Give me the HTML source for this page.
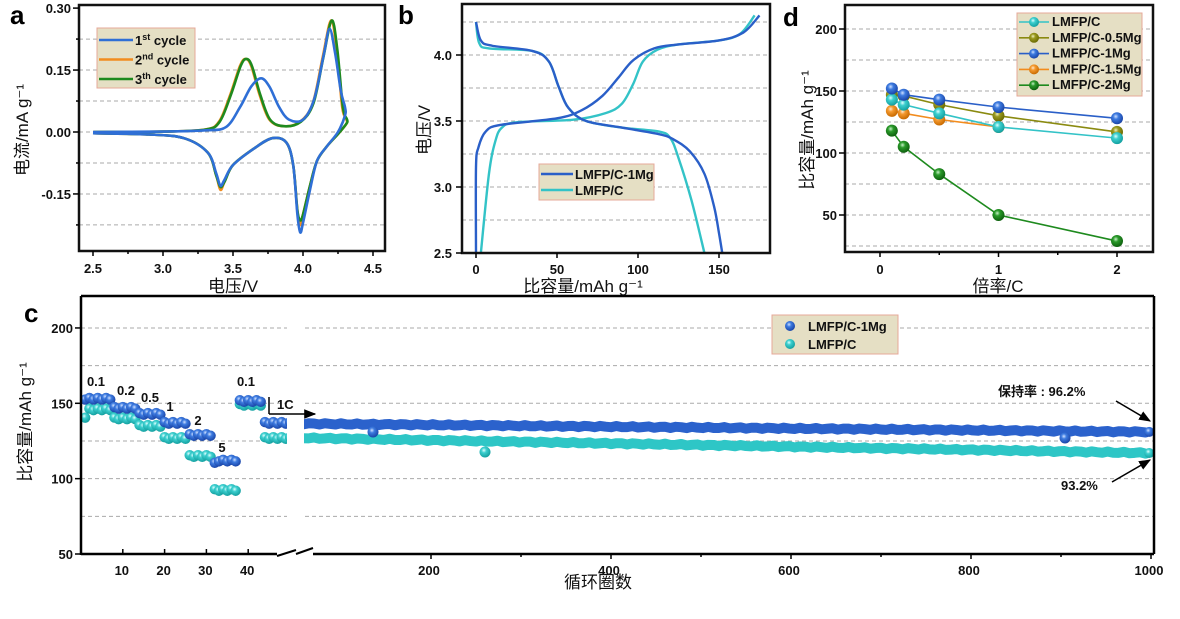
<!DOCTYPE html>
<html><head><meta charset="utf-8"><style>
body{margin:0;background:#fff;width:1180px;height:614px;overflow:hidden}
svg{font-family:"Liberation Sans","Noto Sans CJK SC",sans-serif}
.t{font-size:13px;font-weight:bold;fill:#111}
.ti{font-size:17px;fill:#111}
.L{font-size:26px;font-weight:bold;fill:#000}
.g{stroke:#aaa;stroke-dasharray:4 3;stroke-width:1}
</style></head><body>
<svg id="s" width="1180" height="614" xmlns="http://www.w3.org/2000/svg">
<defs>
<radialGradient id="gb" cx="0.4" cy="0.35" r="0.65"><stop offset="0" stop-color="#cfe0ff"/><stop offset="0.35" stop-color="#3d7be0"/><stop offset="1" stop-color="#1a45a8"/></radialGradient>
<radialGradient id="gc" cx="0.4" cy="0.35" r="0.65"><stop offset="0" stop-color="#e0ffff"/><stop offset="0.35" stop-color="#3ccfcf"/><stop offset="1" stop-color="#14a0a0"/></radialGradient>
<radialGradient id="go" cx="0.4" cy="0.35" r="0.65"><stop offset="0" stop-color="#ffe8cc"/><stop offset="0.35" stop-color="#f59a30"/><stop offset="1" stop-color="#c86a00"/></radialGradient>
<radialGradient id="gl" cx="0.4" cy="0.35" r="0.65"><stop offset="0" stop-color="#f0f0c0"/><stop offset="0.35" stop-color="#9a9a20"/><stop offset="1" stop-color="#6a6a00"/></radialGradient>
<radialGradient id="gg" cx="0.4" cy="0.35" r="0.65"><stop offset="0" stop-color="#c8f0c8"/><stop offset="0.35" stop-color="#2a9a2a"/><stop offset="1" stop-color="#0e600e"/></radialGradient>
<marker id="ar" viewBox="0 0 10 10" refX="9" refY="5" markerWidth="8" markerHeight="8" orient="auto"><path d="M0,1 L10,5 L0,9 z" fill="#000"/></marker>
</defs>
<g id="root"></g>
<text class="L" x="10" y="24">a</text>
<text class="L" x="398" y="24">b</text>
<text class="L" x="783" y="26">d</text>
<text class="L" x="24" y="322">c</text>
</svg>
<script>
const NS="http://www.w3.org/2000/svg",root=document.getElementById('root');
function el(t,a,txt){const e=document.createElementNS(NS,t);for(const k in a)e.setAttribute(k,a[k]);if(txt!==undefined)e.textContent=txt;root.appendChild(e);return e;}
function line(x1,y1,x2,y2,a){return el('line',Object.assign({x1,y1,x2,y2,stroke:'#000','stroke-width':1.5},a||{}));}
function txt(x,y,s,cls,extra){return el('text',Object.assign({x,y,class:cls||'t'},extra||{}),s);}
function smooth(pts){let d='M'+pts[0][0]+','+pts[0][1];for(let i=0;i<pts.length-1;i++){const p0=pts[i-1]||pts[i],p1=pts[i],p2=pts[i+1],p3=pts[i+2]||p2;const c1=[p1[0]+(p2[0]-p0[0])/6,p1[1]+(p2[1]-p0[1])/6],c2=[p2[0]-(p3[0]-p1[0])/6,p2[1]-(p3[1]-p1[1])/6];d+=` C${c1[0]},${c1[1]} ${c2[0]},${c2[1]} ${p2[0]},${p2[1]}`;}return d;}
function frame(x0,y0,x1,y1){el('rect',{x:x0,y:y0,width:x1-x0,height:y1-y0,fill:'none',stroke:'#111','stroke-width':2.5});}

/* ---------- Panel a ---------- */
{const X=v=>93+(v-2.5)*140,Y=i=>132-i*413;
[0.225,0.15,0.075,0,-0.075,-0.15,-0.225].forEach(v=>line(79,Y(v),385,Y(v),{class:'g'}));
const up1=[[2.5,0],[3.0,0.001],[3.3,0.004],[3.45,0.012],[3.55,0.06],[3.63,0.11],[3.7,0.13],[3.76,0.11],[3.83,0.06],[3.9,0.03],[4.0,0.03],[4.08,0.08],[4.15,0.19],[4.19,0.25],[4.23,0.19],[4.27,0.1],[4.3,0.06]];
const dn1=[[4.3,0.04],[4.25,0.0],[4.17,-0.035],[4.1,-0.07],[4.05,-0.14],[4.0,-0.22],[3.98,-0.243],[3.96,-0.2],[3.93,-0.08],[3.88,-0.025],[3.78,-0.015],[3.65,-0.04],[3.5,-0.08],[3.44,-0.115],[3.41,-0.13],[3.38,-0.1],[3.32,-0.05],[3.15,-0.015],[2.9,-0.006],[2.5,-0.003]];
const up2=[[2.5,0],[3.0,0.001],[3.3,0.006],[3.4,0.025],[3.48,0.09],[3.55,0.16],[3.59,0.177],[3.63,0.16],[3.69,0.09],[3.76,0.03],[3.86,0.014],[3.98,0.025],[4.07,0.07],[4.14,0.18],[4.2,0.27],[4.24,0.2],[4.28,0.06],[4.31,0.03]];
const dn2=k=>[[4.31,0.02],[4.25,-0.005],[4.17,-0.035],[4.1,-0.07],[4.05,-0.13],[4.0,-0.2],[3.98,-0.225*k],[3.96,-0.19],[3.93,-0.08],[3.88,-0.025],[3.78,-0.015],[3.65,-0.04],[3.5,-0.08],[3.44,-0.12],[3.41,-0.14*k],[3.38,-0.105],[3.32,-0.05],[3.15,-0.015],[2.9,-0.006],[2.5,-0.003]];
const m=a=>a.map(p=>[X(p[0]),Y(p[1])]);
el('path',{d:smooth(m(up2.concat(dn2(1)))),fill:'none',stroke:'#f28c1e','stroke-width':2.6});
el('path',{d:smooth(m(up2.map(p=>[p[0]+0.005,p[1]]).concat(dn2(0.95)))),fill:'none',stroke:'#1e8a1e','stroke-width':2.6});
el('path',{d:smooth(m(up1.concat(dn1))),fill:'none',stroke:'#2f6fd6','stroke-width':2.6});
frame(79,5,385,251);
[[0.3,'0.30'],[0.15,'0.15'],[0,'0.00'],[-0.15,'-0.15']].forEach(a=>{const v=a[0];line(73,Y(v),79,Y(v));txt(71,Y(v)+5,a[1],'t',{'text-anchor':'end'});});
[0.225,0.075,-0.075,-0.225].forEach(v=>line(76,Y(v),79,Y(v)));
[2.5,3,3.5,4,4.5].forEach(v=>{line(X(v),251,X(v),256);txt(X(v),273,v.toFixed(1),'t',{'text-anchor':'middle'});});
[2.75,3.25,3.75,4.25].forEach(v=>line(X(v),251,X(v),254));
el('text',{x:233,y:292,class:'ti','text-anchor':'middle'},'电压/V');
el('text',{x:0,y:0,class:'ti','text-anchor':'middle',transform:'translate(28,130) rotate(-90)'},'电流/mA g⁻¹');
el('rect',{x:97,y:28,width:98,height:60,fill:'#e5dfc4',stroke:'#e6a898','stroke-width':1});
[['#2f6fd6','1','st'],['#f28c1e','2','nd'],['#1e8a1e','3','th']].forEach((c,i)=>{const y=40+i*19.5;line(99,y,133,y,{stroke:c[0],'stroke-width':2.6});const t=el('text',{x:135,y:y+5,class:'t'});t.innerHTML=c[1]+'<tspan dy="-5" font-size="9">'+c[2]+'</tspan><tspan dy="5"> cycle</tspan>';});
}

/* ---------- Panel b ---------- */
{const X=c=>476+c*1.62,Y=v=>253-(v-2.5)*132;
[4.25,4.0,3.75,3.5,3.25,3.0,2.75].forEach(v=>line(462,Y(v),770,Y(v),{class:'g'}));
const m=a=>a.map(p=>[X(p[0]),Y(p[1])]);
const chC=[[3,2.5],[8,3.1],[12,3.35],[16,3.45],[25,3.49],[60,3.51],[80,3.56],[90,3.63],[97,3.78],[103,3.95],[112,4.04],[125,4.08],[150,4.11],[163,4.16],[172,4.3]];
const dcC=[[0,4.25],[2,4.09],[8,4.05],[35,4.03],[45,3.95],[51,3.76],[57,3.6],[68,3.5],[90,3.45],[113,3.42],[120,3.37],[125,3.22],[133,2.9],[141,2.5]];
const ch1=[[0,2.5],[0,3.15],[1.5,3.3],[6,3.42],[15,3.47],[50,3.52],[65,3.58],[78,3.69],[88,3.83],[97,3.96],[110,4.05],[125,4.08],[150,4.11],[165,4.17],[175,4.3]];
const dc1=[[0,4.25],[3,4.11],[10,4.07],[35,4.03],[45,3.95],[51,3.76],[57,3.6],[68,3.5],[90,3.45],[113,3.4],[122,3.36],[132,3.27],[141,3.1],[147,2.85],[150,2.65],[152,2.5]];
[[chC,'#33c3c7'],[dcC,'#33c3c7'],[ch1,'#2a5fc8'],[dc1,'#2a5fc8']].forEach(a=>el('path',{d:smooth(m(a[0])),fill:'none',stroke:a[1],'stroke-width':2.4}));
frame(462,4,770,253);
[2.5,3,3.5,4].forEach(v=>{line(456,Y(v),462,Y(v));txt(452,Y(v)+5,v.toFixed(1),'t',{'text-anchor':'end'});});
[0,50,100,150].forEach(v=>{line(X(v),253,X(v),258);txt(X(v),274,v,'t',{'text-anchor':'middle'});});
el('text',{x:583,y:292,class:'ti','text-anchor':'middle'},'比容量/mAh g⁻¹');
el('text',{x:0,y:0,class:'ti','text-anchor':'middle',transform:'translate(430,130) rotate(-90)'},'电压/V');
el('rect',{x:539,y:164,width:115,height:36,fill:'#e5dfc4',stroke:'#e6a898'});
line(541,174,573,174,{stroke:'#2a5fc8','stroke-width':2.4});txt(575,179,'LMFP/C-1Mg');
line(541,190,573,190,{stroke:'#33c3c7','stroke-width':2.4});txt(575,195,'LMFP/C');
}

/* ---------- Panel d ---------- */
{const X=r=>880+r*118.5,Y=v=>29+(200-v)*1.24;
[200,175,150,125,100,75,50,25].forEach(v=>line(845,Y(v),1153,Y(v),{class:'g'}));
const r=[0.1,0.2,0.5,1,2];
const S=[['#1e8a1e','gg',[118,105,83,50,29]],['#f28c1e','go',[134,132,127,121,null]],['#8a8a10','gl',[147,146,139,130,117]],['#33c3c7','gc',[143,139,132,121,112]],['#2a5fc8','gb',[152,147,143,137,128]]];
S.forEach(s=>{const p=[];s[2].forEach((v,i)=>{if(v!=null)p.push(X(r[i])+','+Y(v));});el('polyline',{points:p.join(' '),fill:'none',stroke:s[0],'stroke-width':1.6});});
S.forEach(s=>s[2].forEach((v,i)=>{if(v!=null)el('circle',{cx:X(r[i]),cy:Y(v),r:6,fill:`url(#${s[1]})`});}));
frame(845,5,1153,252);
[200,150,100,50].forEach(v=>{line(839,Y(v),845,Y(v));txt(837,Y(v)+5,v,'t',{'text-anchor':'end'});});
[0,1,2].forEach(v=>{line(X(v),252,X(v),257);txt(X(v),274,v,'t',{'text-anchor':'middle'});});
[0.5,1.5].forEach(v=>line(X(v),252,X(v),255));
el('text',{x:998,y:292,class:'ti','text-anchor':'middle'},'倍率/C');
el('text',{x:0,y:0,class:'ti','text-anchor':'middle',transform:'translate(813,130) rotate(-90)'},'比容量/mAh g⁻¹');
el('rect',{x:1017,y:13,width:125,height:83,fill:'#e5dfc4',stroke:'#e6a898'});
[['#33c3c7','gc','LMFP/C'],['#8a8a10','gl','LMFP/C-0.5Mg'],['#2a5fc8','gb','LMFP/C-1Mg'],['#f28c1e','go','LMFP/C-1.5Mg'],['#1e8a1e','gg','LMFP/C-2Mg']].forEach((s,i)=>{const y=22+i*15.8;line(1019,y,1049,y,{stroke:s[0],'stroke-width':1.6});el('circle',{cx:1034,cy:y,r:5,fill:`url(#${s[1]})`});el('text',{x:1052,y:y+4,class:'t','font-size':'11'},s[2]);});
}

/* ---------- Panel c ---------- */
{const Y=v=>554-(v-50)*1.507,XL=c=>76+c*4.18,XR=c=>431+(c-200)*0.9;
[200,175,150,125,100,75].forEach(v=>line(81,Y(v),1154,Y(v),{class:'g'}));
function band(c0,c1,v0,v1,col,seed){let pts=[];for(let c=c0;c<=c1;c+=6){const v=v0+(v1-v0)*(c-c0)/(c1-c0)+Math.sin(c*0.37+seed)*0.5;pts.push(XR(c)+','+Y(v));}el('polyline',{points:pts.join(' '),fill:'none',stroke:col,'stroke-width':10,'stroke-linecap':'round','stroke-linejoin':'round'});}
band(58,998,127,117,'#2ec6c6',1);band(58,998,136.5,131,'#2b62cc',2);
el('circle',{cx:XR(998),cy:Y(131),r:5,fill:'url(#gb)'});el('circle',{cx:XR(998),cy:Y(117),r:5,fill:'url(#gc)'});
el('circle',{cx:373,cy:432,r:5.5,fill:'url(#gb)'});el('circle',{cx:485,cy:452,r:5.5,fill:'url(#gc)'});
el('circle',{cx:1065,cy:438,r:5.5,fill:'url(#gb)'});
const segB=[[1,7,153],[8,13,147],[14,19,143],[20,25,137],[26,31,129],[32,37,112],[38,43,151.5],[44,50,137]];
const segC=[[1,7,146],[8,13,140],[14,19,135],[20,25,127],[26,31,115],[32,37,92.5],[38,43,149],[44,50,127]];
[[segC,'gc'],[segB,'gb']].forEach(sg=>sg[0].forEach(s=>{for(let c=s[0];c<=s[1];c++){let v=s[2];if(c==s[0]&&sg[1]=='gc'&&c==1)v-=5;if(c==32&&sg[1]=='gb')v-=2;el('circle',{cx:XL(c)+5,cy:Y(v)+(c%2?0.8:-0.8),r:5.2,fill:`url(#${sg[1]})`});}}));
el('rect',{x:287,y:320,width:17,height:230,fill:'#fff'});
line(81,296,1154,296,{'stroke-width':2.5});
line(1154,296,1154,554,{'stroke-width':2.5});
line(81,296,81,555,{'stroke-width':2.5});
line(81,554,277,554,{'stroke-width':2.5});line(313,554,1154,554,{'stroke-width':2.5});
el('path',{d:'M277,556 L296,550 M296,554 L313,548',stroke:'#000','stroke-width':2,fill:'none'});
[200,150,100,50].forEach(v=>{line(75,Y(v),81,Y(v));txt(73,Y(v)+5,v,'t',{'text-anchor':'end'});});
[10,20,30,40].forEach(v=>{line(XL(v)+5,554,XL(v)+5,549);txt(XL(v)+4,575,v,'t',{'text-anchor':'middle'});});
[200,400,600,800,1000].forEach(v=>{line(XR(v),554,XR(v),559);txt(XR(v)-2,575,v,'t',{'text-anchor':'middle'});});
[300,500,700,900].forEach(v=>line(XR(v),554,XR(v),557));
el('text',{x:598,y:588,class:'ti','text-anchor':'middle'},'循环圈数');
el('text',{x:0,y:0,class:'ti','text-anchor':'middle',transform:'translate(31,422) rotate(-90)'},'比容量/mAh g⁻¹');
[['0.1',96,386],['0.2',126,395],['0.5',150,402],['1',170,411],['2',198,425],['5',222,452],['0.1',246,386]].forEach(a=>txt(a[1],a[2],a[0],'t',{'text-anchor':'middle','font-size':'14'}));
line(269,397,269,414,{'stroke-width':1.5});el('line',{x1:269,y1:414,x2:315,y2:414,stroke:'#000','stroke-width':1.5,'marker-end':'url(#ar)'});
txt(277,409,'1C','t',{'font-size':'14'});
el('text',{x:998,y:396,class:'t','font-size':'14'},'保持率 : 96.2%');
el('line',{x1:1116,y1:401,x2:1150,y2:421,stroke:'#000','stroke-width':1.5,'marker-end':'url(#ar)'});
txt(1061,490,'93.2%','t',{'font-size':'14'});
el('line',{x1:1112,y1:482,x2:1150,y2:460,stroke:'#000','stroke-width':1.5,'marker-end':'url(#ar)'});
el('rect',{x:772,y:315,width:126,height:39,fill:'#e5dfc4',stroke:'#e6a898'});
el('circle',{cx:790,cy:326,r:5,fill:'url(#gb)'});txt(808,331,'LMFP/C-1Mg');
el('circle',{cx:790,cy:344,r:5,fill:'url(#gc)'});txt(808,349,'LMFP/C');
}
</script>
</body></html>
